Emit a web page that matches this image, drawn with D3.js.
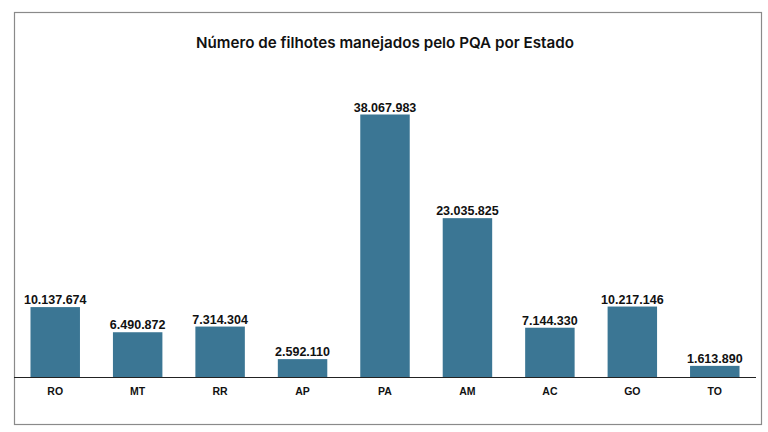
<!DOCTYPE html>
<html>
<head>
<meta charset="utf-8">
<script src="https://cdn.jsdelivr.net/npm/d3@7"></script>
<style>
  body { margin: 0; background: #fff; }
  .title { font-family: Inter, "Open Sans", sans-serif; font-weight: 600; font-size: 15.2px; fill: #111; }
  .value { font-family: "Liberation Sans", Arial, sans-serif; font-weight: bold; font-size: 12.5px; fill: #111; }
  .cat { font-family: "Liberation Sans", Arial, sans-serif; font-weight: bold; font-size: 10.5px; fill: #111; }
</style>
</head>
<body>
<svg id="chart" width="768" height="432"></svg>
<script>
const states = ["RO", "MT", "RR", "AP", "PA", "AM", "AC", "GO", "TO"]
const filhotes = [10137674, 6490872, 7314304, 2592110, 38067983, 23035825, 7144330, 10217146, 1613890]
const title = "Número de filhotes manejados pelo PQA por Estado"

const svg = d3.select("#chart")
const plotLeft = 14, plotRight = 756, plotBase = 377, plotTop = 114.5

const fmt = d => d3.format(",")(d).replace(/,/g, ".")

// frame
svg.append("rect")
  .attr("x", 14.5).attr("y", 12.5)
  .attr("width", 747).attr("height", 412)
  .attr("fill", "#fff")
  .attr("stroke", "#8a8a8a")
  .attr("stroke-width", 1.2)

svg.append("text")
  .attr("class", "title")
  .attr("x", 385)
  .attr("y", 48)
  .attr("text-anchor", "middle")
  .text(title)

let x = d3.scaleBand()
  .domain(states)
  .range([plotLeft, plotRight])
  .paddingInner(0.4)
  .paddingOuter(0.2)

let y = d3.scaleLinear()
  .domain([0, d3.max(filhotes)])
  .range([plotBase, plotTop])

let data = states.map((s, i) => ({ state: s, value: filhotes[i] }))

svg.selectAll("rect.bar")
  .data(data)
  .enter()
  .append("rect")
  .attr("class", "bar")
  .attr("x", d => x(d.state))
  .attr("y", d => y(d.value))
  .attr("width", x.bandwidth())
  .attr("height", d => plotBase - y(d.value))
  .attr("fill", "#3b7694")

svg.selectAll("text.value")
  .data(data)
  .enter()
  .append("text")
  .attr("class", "value")
  .attr("x", d => x(d.state) + x.bandwidth() / 2)
  .attr("y", d => y(d.value) - 3)
  .attr("text-anchor", "middle")
  .text(d => fmt(d.value))

let xAxis = d3.axisBottom(x).tickSize(0).tickPadding(11)
let xG = svg.append("g")
  .attr("transform", "translate(0," + plotBase + ")")
  .call(xAxis)

xG.select(".domain").attr("stroke", "#222").attr("stroke-width", 1).attr("d", "M" + plotLeft + ",0.5H" + plotRight)
xG.selectAll("text").attr("class", "cat").attr("fill", null).attr("font-size", null).attr("font-family", null)
</script>
</body>
</html>
